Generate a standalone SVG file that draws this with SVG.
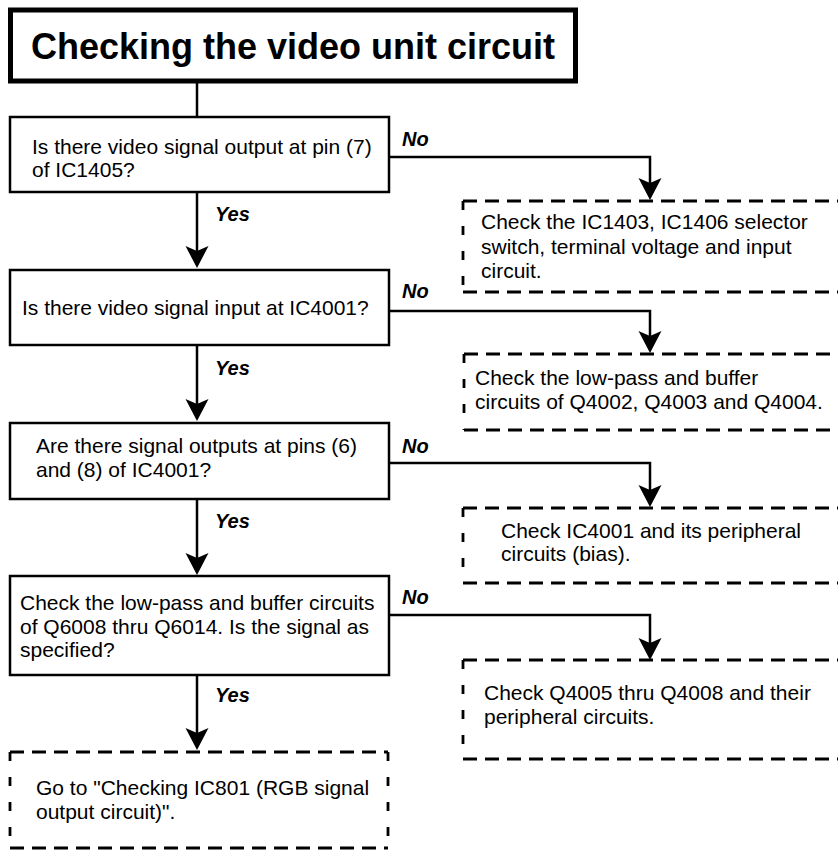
<svg xmlns="http://www.w3.org/2000/svg" width="838" height="850" viewBox="0 0 838 850">
<style>
.box{fill:#fff;stroke:#000;stroke-width:2.5}
.title{fill:#fff;stroke:#000;stroke-width:5}
.dh{fill:none;stroke:#000;stroke-width:2.8;stroke-dasharray:14 8}
.dv{fill:none;stroke:#000;stroke-width:2.8;stroke-dasharray:9 16}
.ln{fill:none;stroke:#000;stroke-width:2.5}
.t{font-family:"Liberation Sans",Arial,sans-serif;font-size:21px;fill:#000}
.tt{font-family:"Liberation Sans",Arial,sans-serif;font-size:36px;font-weight:bold;fill:#000}
.lb{font-family:"Liberation Sans",Arial,sans-serif;font-size:20px;font-weight:bold;font-style:italic;fill:#000}
</style>
<defs>
<path id="ah" d="M0,0 L-11.5,-22 L0,-17 L11.5,-22 Z" fill="#000"/>
</defs>
<rect width="838" height="850" fill="#fff"/>
<g id="connectors">
<line class="ln" x1="197" y1="83" x2="197" y2="117"/>
<line class="ln" x1="197" y1="192" x2="197" y2="255"/>
<use href="#ah" x="197" y="268"/>
<line class="ln" x1="197" y1="345" x2="197" y2="408"/>
<use href="#ah" x="197" y="421"/>
<line class="ln" x1="197" y1="499" x2="197" y2="562"/>
<use href="#ah" x="197" y="575"/>
<line class="ln" x1="197" y1="675" x2="197" y2="737"/>
<use href="#ah" x="197" y="750"/>
<polyline class="ln" points="389,157 650,157 650,188"/>
<use href="#ah" x="650" y="200"/>
<polyline class="ln" points="389,311 650,311 650,341"/>
<use href="#ah" x="650" y="353"/>
<polyline class="ln" points="389,463 650,463 650,494"/>
<use href="#ah" x="650" y="507"/>
<polyline class="ln" points="389,615 650,615 650,647"/>
<use href="#ah" x="650" y="660"/>
<text class="lb" x="215" y="221">Yes</text>
<text class="lb" x="215" y="375">Yes</text>
<text class="lb" x="215" y="528">Yes</text>
<text class="lb" x="215" y="702">Yes</text>
<text class="lb" x="402" y="146">No</text>
<text class="lb" x="402" y="298">No</text>
<text class="lb" x="402" y="453">No</text>
<text class="lb" x="402" y="604">No</text>
</g>
<g id="title">
<rect class="title" x="10.5" y="10" width="565" height="71"/>
<text class="tt" x="293" y="59" text-anchor="middle">Checking the video unit circuit</text>
</g>
<g id="q1">
<rect class="box" x="10" y="117" width="379" height="75"/>
<text class="t" x="32" y="154">Is there video signal output at pin (7)</text>
<text class="t" x="32" y="177">of IC1405?</text>
</g>
<g id="q2">
<rect class="box" x="10" y="270" width="379" height="75"/>
<text class="t" x="22" y="315">Is there video signal input at IC4001?</text>
</g>
<g id="q3">
<rect class="box" x="10" y="423" width="379" height="76"/>
<text class="t" x="36" y="453">Are there signal outputs at pins (6)</text>
<text class="t" x="36" y="477">and (8) of IC4001?</text>
</g>
<g id="q4">
<rect class="box" x="10" y="576" width="379" height="99"/>
<text class="t" x="20" y="610">Check the low-pass and buffer circuits</text>
<text class="t" x="20" y="634">of Q6008 thru Q6014. Is the signal as</text>
<text class="t" x="20" y="657">specified?</text>
</g>
<g id="a1">
<line class="dh" x1="463" y1="201" x2="850" y2="201"/>
<line class="dh" x1="463" y1="292" x2="850" y2="292"/>
<line class="dv" x1="463" y1="201" x2="463" y2="292"/>
<text class="t" x="481" y="229">Check the IC1403, IC1406 selector</text>
<text class="t" x="481" y="254">switch, terminal voltage and input</text>
<text class="t" x="481" y="278">circuit.</text>
</g>
<g id="a2">
<line class="dh" x1="464" y1="354" x2="850" y2="354"/>
<line class="dh" x1="464" y1="430" x2="850" y2="430"/>
<line class="dv" x1="464" y1="354" x2="464" y2="430"/>
<text class="t" x="475" y="385">Check the low-pass and buffer</text>
<text class="t" x="475" y="409">circuits of Q4002, Q4003 and Q4004.</text>
</g>
<g id="a3">
<line class="dh" x1="463" y1="508" x2="850" y2="508"/>
<line class="dh" x1="463" y1="583" x2="850" y2="583"/>
<line class="dv" x1="463" y1="508" x2="463" y2="583"/>
<text class="t" x="501" y="538">Check IC4001 and its peripheral</text>
<text class="t" x="501" y="561">circuits (bias).</text>
</g>
<g id="a4">
<line class="dh" x1="463" y1="660" x2="850" y2="660"/>
<line class="dh" x1="463" y1="759" x2="850" y2="759"/>
<line class="dv" x1="463" y1="660" x2="463" y2="759"/>
<text class="t" x="484" y="700">Check Q4005 thru Q4008 and their</text>
<text class="t" x="484" y="724">peripheral circuits.</text>
</g>
<g id="a5">
<line class="dh" x1="10" y1="752" x2="388" y2="752"/>
<line class="dh" x1="10" y1="848" x2="388" y2="848"/>
<line class="dv" x1="10" y1="752" x2="10" y2="848"/>
<line class="dv" x1="388" y1="752" x2="388" y2="848"/>
<text class="t" x="36" y="795">Go to "Checking IC801 (RGB signal</text>
<text class="t" x="36" y="819">output circuit)".</text>
</g>
</svg>
